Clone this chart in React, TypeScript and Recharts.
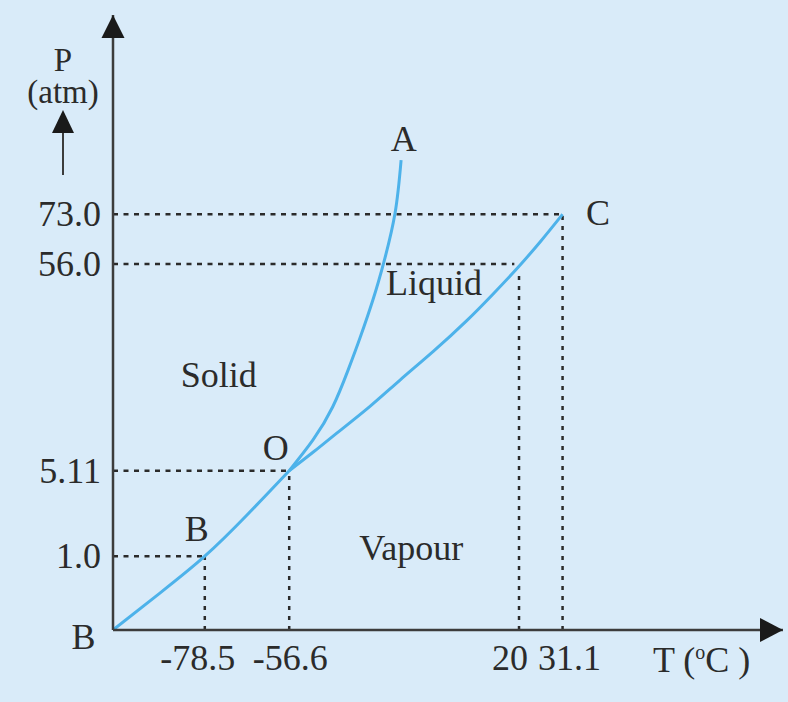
import React from "react";
import { LineChart, Line, XAxis, YAxis, ReferenceLine, ReferenceDot } from "recharts";

// schematic diagram units: both axes run 0..100 (the drawing is not to scale)
const xTickPos = [13.7, 26.3, 60.6, 67.1];
const xTickLabels = ["-78.5", "-56.6", "20", "31.1"];
const yTickPos = [12.0, 25.9, 59.5, 67.6];
const yTickLabels = ["1.0", "5.11", "56.0", "73.0"];

// where each dotted guide meets the curves
const hGuideEnd = [13.7, 26.3, 59.9, 67.1];
const vGuideTop = [12.0, 25.9, 58.2, 67.6];

// sublimation curve B -> O
const curveOB = [
  { x: 0, y: 0 },
  { x: 7.0, y: 6.0 },
  { x: 13.7, y: 12.0 },
  { x: 20.0, y: 18.7 },
  { x: 26.3, y: 25.9 },
];

// melting curve O -> A
const curveOA = [
  { x: 26.3, y: 25.9 },
  { x: 29.85, y: 30.9 },
  { x: 32.8, y: 36.3 },
  { x: 35.1, y: 42.3 },
  { x: 36.9, y: 47.6 },
  { x: 38.8, y: 53.7 },
  { x: 40.4, y: 59.7 },
  { x: 42.1, y: 67.8 },
  { x: 43.0, y: 76.4 },
];

// vapour pressure curve O -> C
const curveOC = [
  { x: 26.3, y: 25.9 },
  { x: 29.85, y: 28.9 },
  { x: 33.4, y: 32.0 },
  { x: 38.4, y: 36.4 },
  { x: 42.8, y: 40.6 },
  { x: 47.8, y: 45.3 },
  { x: 52.8, y: 50.3 },
  { x: 56.7, y: 54.6 },
  { x: 60.4, y: 58.9 },
  { x: 63.9, y: 63.3 },
  { x: 67.1, y: 67.6 },
];

const regionNames = ["Solid", "Liquid", "Vapour"];
const regionX = [15.8, 47.9, 44.5];
const regionY = [41.5, 56.4, 13.3];

const pointNames = ["A", "C", "O", "B", "B"];
const pointX = [43.4, 72.4, 24.3, 12.5, -4.4];
const pointY = [79.8, 67.8, 29.6, 16.4, -1.2];

const FONT = '"Liberation Serif", "Times New Roman", Times, serif';
const INK = "#2b2b2b";
const AXIS = "#3c3c3c";
const CURVE = "#4db2ea";
const FS = 36;
const textStyle = { fontFamily: FONT, fontSize: FS, fill: INK };

const xTickShift = [-7, 1, -9, 7];

function XTick(props: any) {
  const { x, y, payload } = props;
  const i = xTickPos.indexOf(payload.value);
  return (
    <text x={x + (xTickShift[i] || 0)} y={y + 40} textAnchor="middle" style={textStyle}>
      {xTickLabels[i]}
    </text>
  );
}

function YTick(props: any) {
  const { x, y, payload } = props;
  const i = yTickPos.indexOf(payload.value);
  return (
    <text x={x - 12} y={y} dy="0.33em" textAnchor="end" style={textStyle}>
      {yTickLabels[i]}
    </text>
  );
}

function XLabel(props: any) {
  const vb = props.viewBox || { x: 113, y: 630 };
  return (
    <text x={vb.x + 540} y={vb.y + 42} style={textStyle}>
      T (
      <tspan style={{ fontSize: 20 }} dy={-13}>o</tspan>
      <tspan dy={13}>C )</tspan>
    </text>
  );
}

function YLabel(props: any) {
  const vb = props.viewBox || { x: 0, y: 15 };
  const cx = vb.x + 63;
  const top = vb.y;
  return (
    <g>
      <text x={cx} y={top + 56} textAnchor="middle" style={{ ...textStyle, fontSize: 33 }}>P</text>
      <text x={cx} y={top + 88} textAnchor="middle" style={{ ...textStyle, fontSize: 33 }}>(atm)</text>
      <polygon points={`${cx},${top + 95} ${cx - 11},${top + 118} ${cx + 11},${top + 118}`} fill="#1a1a1a" />
      <line x1={cx} y1={top + 118} x2={cx} y2={top + 160} stroke={AXIS} strokeWidth={2} />
    </g>
  );
}

function NameText(props: any) {
  return (
    <text x={props.cx} y={props.cy} dy="0.33em" textAnchor="middle" style={textStyle}>
      {props.name}
    </text>
  );
}

export default function App() {
  return (
    <div style={{ width: 788, height: 702, background: "#d9ebf9" }}>
      <style>{"body{margin:0}"}</style>
      <LineChart width={788} height={702} margin={{ top: 15, right: 5, bottom: 0, left: 0 }}>
        <XAxis
          type="number"
          dataKey="x"
          domain={[0, 100]}
          allowDataOverflow
          ticks={xTickPos}
          interval={0}
          height={72}
          tickSize={0}
          tickMargin={0}
          tickLine={false}
          axisLine={{ stroke: AXIS, strokeWidth: 2.5 }}
          tick={<XTick />}
          label={{ content: <XLabel /> }}
        />
        <YAxis
          type="number"
          dataKey="y"
          domain={[0, 100]}
          allowDataOverflow
          ticks={yTickPos}
          interval={0}
          width={113}
          tickSize={0}
          tickMargin={0}
          tickLine={false}
          axisLine={{ stroke: AXIS, strokeWidth: 2.5 }}
          tick={<YTick />}
          label={{ content: <YLabel /> }}
        />
        {yTickPos.map((v, i) => (
          <ReferenceLine
            key={"h" + i}
            segment={[{ x: 0, y: v }, { x: hGuideEnd[i], y: v }]}
            stroke={INK}
            strokeWidth={2.5}
            strokeDasharray="5 5.5"
            ifOverflow="visible"
          />
        ))}
        {xTickPos.map((v, i) => (
          <ReferenceLine
            key={"v" + i}
            segment={[{ x: v, y: 0 }, { x: v, y: vGuideTop[i] }]}
            stroke={INK}
            strokeWidth={2.5}
            strokeDasharray="4 6"
            ifOverflow="visible"
          />
        ))}
        <Line data={curveOB} dataKey="y" type="natural" stroke={CURVE} strokeWidth={3} dot={false} isAnimationActive={false} />
        <Line data={curveOA} dataKey="y" type="natural" stroke={CURVE} strokeWidth={3} dot={false} isAnimationActive={false} />
        <Line data={curveOC} dataKey="y" type="natural" stroke={CURVE} strokeWidth={3} dot={false} isAnimationActive={false} />
        <ReferenceDot
          x={100}
          y={0}
          r={0}
          ifOverflow="visible"
          shape={(p: any) => (
            <polygon points={`${p.cx},${p.cy} ${p.cx - 23},${p.cy - 12} ${p.cx - 23},${p.cy + 12}`} fill="#1a1a1a" />
          )}
        />
        <ReferenceDot
          x={0}
          y={100}
          r={0}
          ifOverflow="visible"
          shape={(p: any) => (
            <polygon points={`${p.cx},${p.cy} ${p.cx - 11.5},${p.cy + 23} ${p.cx + 11.5},${p.cy + 23}`} fill="#1a1a1a" />
          )}
        />
        {regionNames.map((n, i) => (
          <ReferenceDot
            key={"r" + i}
            x={regionX[i]}
            y={regionY[i]}
            r={0}
            ifOverflow="visible"
            shape={(p: any) => <NameText cx={p.cx} cy={p.cy} name={n} />}
          />
        ))}
        {pointNames.map((n, i) => (
          <ReferenceDot
            key={"p" + i}
            x={pointX[i]}
            y={pointY[i]}
            r={0}
            ifOverflow="visible"
            shape={(p: any) => <NameText cx={p.cx} cy={p.cy} name={n} />}
          />
        ))}
      </LineChart>
    </div>
  );
}
